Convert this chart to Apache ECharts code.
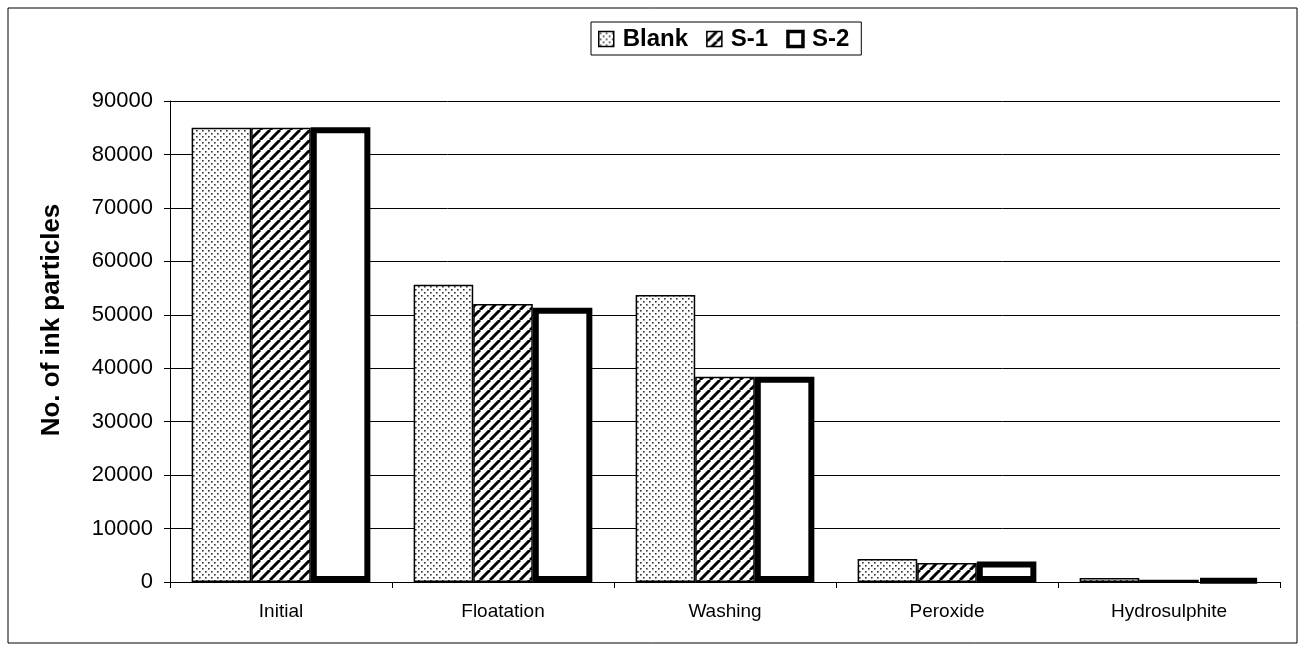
<!DOCTYPE html>
<html>
<head>
    <meta charset="utf-8">
    <title>Ink particles</title>
    <script src="https://cdn.jsdelivr.net/npm/echarts@6/dist/echarts.min.js"></script>
</head>
<body style="margin:0">
<div id="main" style="width:1307px;height:652px"></div>
<script type="text/javascript">
    var stages = ['Initial', 'Floatation', 'Washing', 'Peroxide', 'Hydrosulphite'];
    var blank = [85000, 55600, 53700, 4300, 750];
    var s1 = [85000, 52000, 38400, 3550, 400];
    var s2 = [85100, 51300, 38400, 3850, 450];
    var yTicks = [0, 10000, 20000, 30000, 40000, 50000, 60000, 70000, 80000, 90000];

    // dotted fill for Blank
    function dotPattern() {
        var c = document.createElement('canvas');
        c.width = 12; c.height = 12;
        var ctx = c.getContext('2d');
        ctx.fillStyle = '#fff';
        ctx.fillRect(0, 0, 12, 12);
        ctx.fillStyle = '#333';
        [[1, 1], [7, 1], [4, 4], [10, 4], [1, 7], [7, 7], [4, 10], [10, 10]].forEach(function (p) {
            ctx.fillRect(p[0], p[1], 1.6, 1.6);
        });
        return c;
    }
    // diagonal stripes for S-1
    function stripePattern() {
        var c = document.createElement('canvas');
        c.width = 10; c.height = 10;
        var ctx = c.getContext('2d');
        ctx.fillStyle = '#fff';
        ctx.fillRect(0, 0, 10, 10);
        ctx.strokeStyle = '#000';
        ctx.lineWidth = 3;
        ctx.beginPath();
        for (var k = -10; k <= 20; k += 10) {
            ctx.moveTo(k, 10);
            ctx.lineTo(k + 10, 0);
        }
        ctx.stroke();
        return c;
    }

    var myChart = echarts.init(document.getElementById('main'));
    var option = {
        backgroundColor: '#fff',
        animation: false,
        graphic: [{
            type: 'rect',
            shape: {x: 8, y: 8, width: 1289, height: 635},
            style: {fill: 'none', stroke: '#000', lineWidth: 1}
        }, {
            type: 'text',
            x: 52, y: 320,
            rotation: Math.PI / 2,
            style: {
                text: 'No. of ink particles',
                font: 'bold 26px "Liberation Sans"',
                fill: '#000',
                align: 'center',
                verticalAlign: 'middle'
            }
        }],
        legend: {
            top: 22,
            left: 591,
            icon: 'rect',
            itemWidth: 15,
            itemHeight: 15,
            itemGap: 18,
            padding: [5, 12, 4, 7],
            borderColor: '#000',
            borderWidth: 1,
            data: [
                {name: 'Blank', itemStyle: {borderWidth: 1.5}},
                {name: 'S-1', itemStyle: {borderWidth: 1.5}},
                {name: 'S-2', itemStyle: {borderWidth: 3.5}}
            ],
            textStyle: {fontFamily: 'Liberation Sans', fontSize: 24, fontWeight: 'bold', color: '#000', padding: [0, 0, 0, 4]}
        },
        grid: {left: 170, right: 27, top: 101, bottom: 70},
        xAxis: {
            type: 'category',
            data: stages,
            axisLine: {lineStyle: {color: '#000', width: 1}},
            axisTick: {show: true, alignWithLabel: false, length: 6, lineStyle: {color: '#000'}},
            axisLabel: {fontFamily: 'Liberation Sans', fontSize: 19, color: '#000', margin: 20}
        },
        yAxis: {
            type: 'value',
            min: 0,
            max: 90000,
            interval: 10000,
            axisLine: {show: true, lineStyle: {color: '#000'}},
            axisTick: {show: true, length: 6, lineStyle: {color: '#000'}},
            axisLabel: {fontFamily: 'Liberation Sans', fontSize: 22, color: '#000', margin: 17,
                formatter: function (v) { return yTicks.indexOf(v) >= 0 ? String(v) : ''; }},
            splitLine: {show: true, lineStyle: {color: '#000', width: 1}}
        },
        series: [
            {
                name: 'Blank', type: 'bar', data: blank,
                barGap: 0, barCategoryGap: '19.5%',
                itemStyle: {color: {image: dotPattern(), repeat: 'repeat'}, borderColor: '#000', borderWidth: 1.5}
            },
            {
                name: 'S-1', type: 'bar', data: s1,
                barGap: 0, barCategoryGap: '19.5%',
                itemStyle: {color: {image: stripePattern(), repeat: 'repeat'}, borderColor: '#000', borderWidth: 1.5}
            },
            {
                name: 'S-2', type: 'bar', data: s2,
                barGap: 0, barCategoryGap: '19.5%',
                itemStyle: {color: '#fff', borderColor: '#000', borderWidth: 6}
            }
        ]
    };
    myChart.setOption(option);
</script>
</body>
</html>
